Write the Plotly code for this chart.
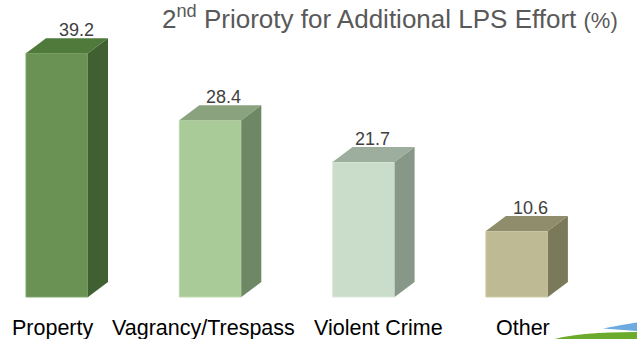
import plotly.graph_objects as go

# ---- data ----
categories = ["Property", "Vagrancy/Trespass", "Violent Crime", "Other"]
values = [39.2, 28.4, 21.7, 10.6]
value_labels = ["39.2", "28.4", "21.7", "10.6"]
title_main = "2<sup>nd</sup> Prioroty for Additional LPS Effort "
title_unit = "(%)"

# ---- styles ----
front_colors = ["#6A9254", "#A9CB98", "#C9DDCA", "#BEBB94"]
front_edges = ["#7FA66A", "#BFDAB0", "#DCEADC", "#CFCDAA"]
top_colors = ["#507A3C", "#8AA27D", "#9DAD9E", "#8F8D6B"]
side_colors = ["#406032", "#6E8765", "#889888", "#7A7959"]

W, H = 637, 339
PX_PER_CAT = 153.3
X0_PX = 57.0          # pixel centre of first bar front
Y0_PX = 297.0         # pixel of value zero
PX_PER_UNIT = 6.22
bar_w = 62 / PX_PER_CAT
dx = 20 / PX_PER_CAT
dy = 15 / PX_PER_UNIT
xr = [-X0_PX / PX_PER_CAT, (W - X0_PX) / PX_PER_CAT]
yr = [-(H - Y0_PX) / PX_PER_UNIT, Y0_PX / PX_PER_UNIT]

label_dx = [-0.026, -0.042, 0.098, 0.039]
value_dx = [0.13, 0.085, 0.055, 0.09]

xs = list(range(len(categories)))

fig = go.Figure()
fig.add_trace(go.Bar(
    x=xs, y=values, width=bar_w,
    marker=dict(color=front_colors, line=dict(color=front_edges, width=1)),
    hoverinfo="skip", showlegend=False,
))

shapes = []
for i, v in enumerate(values):
    l = i - bar_w / 2
    r = i + bar_w / 2
    top = f"M {l},{v} L {l+dx},{v+dy} L {r+dx},{v+dy} L {r},{v} Z"
    side = f"M {r},0 L {r},{v} L {r+dx},{v+dy} L {r+dx},{dy} Z"
    shapes.append(dict(type="path", path=top, xref="x", yref="y",
                       fillcolor=top_colors[i], line=dict(width=0), layer="above"))
    shapes.append(dict(type="path", path=side, xref="x", yref="y",
                       fillcolor=side_colors[i], line=dict(width=0), layer="above"))

# decorative swooshes (bottom right)
def P(px, py):
    return f"{px / W},{1 - py / H}"
shapes.append(dict(type="path", xref="paper", yref="paper",
                   path=f"M {P(555,339)} Q {P(580,332)} {P(637,332)} L {P(637,339)} Z",
                   fillcolor="#6AAA2C", line=dict(width=0), layer="above"))
shapes.append(dict(type="path", xref="paper", yref="paper",
                   path=f"M {P(603,328.5)} Q {P(620,325)} {P(637,322.5)} L {P(637,331)} Q {P(620,329.5)} {P(603,328.5)} Z",
                   fillcolor="#6DAAE0", line=dict(width=0), layer="above"))

annotations = []
for i, v in enumerate(values):
    annotations.append(dict(x=i + value_dx[i], y=v + dy, xref="x", yref="y",
                            text=value_labels[i], showarrow=False,
                            xanchor="center", yanchor="bottom", yshift=-4,
                            font=dict(family="Arial, Liberation Sans", size=18, color="#404040")))
for i, c in enumerate(categories):
    annotations.append(dict(x=i + label_dx[i], y=yr[0], xref="x", yref="y",
                            text=c, showarrow=False,
                            xanchor="center", yanchor="bottom", yshift=-3,
                            font=dict(family="Arial, Liberation Sans", size=21.5, color="#000000")))
annotations.append(dict(x=160 / W, y=1, xref="paper", yref="paper",
                        text=title_main + f"<span style='font-size:22px'>{title_unit}</span>",
                        showarrow=False, xanchor="left", yanchor="top", yshift=1,
                        font=dict(family="Arial, Liberation Sans", size=26, color="#595959")))

fig.update_layout(
    width=W, height=H,
    margin=dict(l=0, r=0, t=0, b=0),
    paper_bgcolor="white", plot_bgcolor="white",
    xaxis=dict(range=xr, visible=False, fixedrange=True),
    yaxis=dict(range=yr, visible=False, fixedrange=True),
    shapes=shapes, annotations=annotations,
    showlegend=False,
)
fig.write_html("out.html")
